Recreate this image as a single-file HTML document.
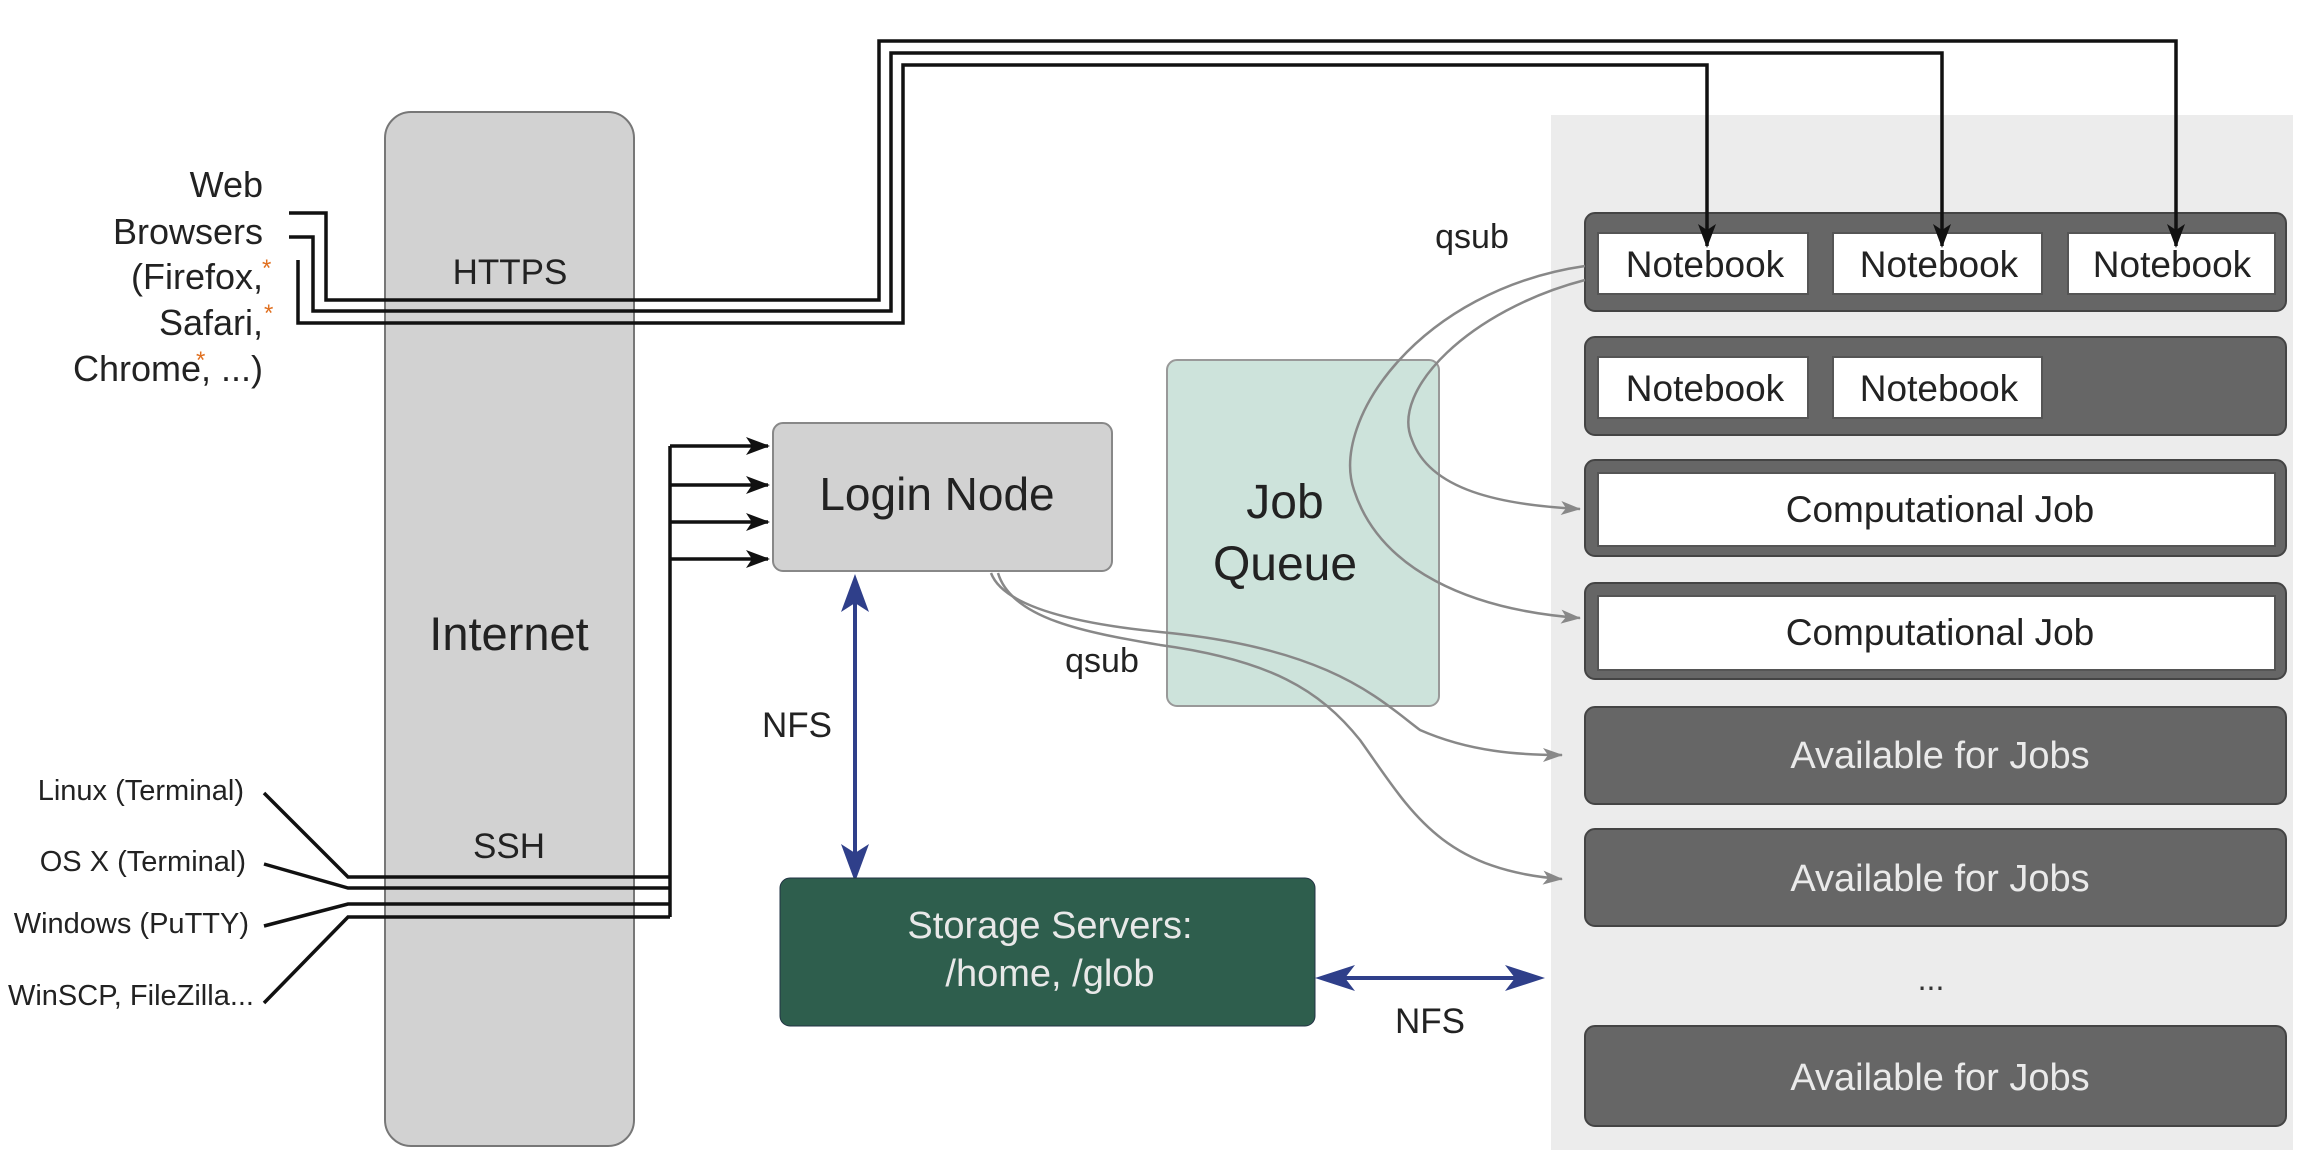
<!DOCTYPE html>
<html><head><meta charset="utf-8"><style>
html,body{margin:0;padding:0;background:#fff}
svg{display:block}
text{font-family:"Liberation Sans",Arial,sans-serif}
</style></head><body>
<svg width="2308" height="1150" viewBox="0 0 2308 1150" xmlns="http://www.w3.org/2000/svg">
<defs>
<marker id="abk" markerWidth="24" markerHeight="20" refX="22" refY="10" orient="auto" markerUnits="userSpaceOnUse" viewBox="0 0 24 20"><path d="M0,1 L24,10 L0,19 L6,10 z" fill="#111"/></marker>
<marker id="ag" markerWidth="20" markerHeight="16" refX="19" refY="8" orient="auto" markerUnits="userSpaceOnUse" viewBox="0 0 20 16"><path d="M0,1 L20,8 L0,15 L5,8 z" fill="#888"/></marker>
</defs>

<rect x="1551" y="115" width="742" height="1040" fill="#ececec"/>

<rect x="385" y="112" width="249" height="1034" rx="26" fill="#d2d2d2" stroke="#777" stroke-width="2"/>
<text x="509" y="650" font-size="47" text-anchor="middle" fill="#222">Internet</text>
<text x="510" y="284" font-size="35" text-anchor="middle" fill="#222">HTTPS</text>
<text x="509" y="858" font-size="35" text-anchor="middle" fill="#222">SSH</text>

<g font-size="36" fill="#222" text-anchor="end">
<text x="263" y="197">Web</text>
<text x="263" y="244">Browsers</text>
<text x="263" y="289">(Firefox,</text>
<text x="263" y="335">Safari,</text>
<text x="263" y="381">Chrome, ...)</text>
</g>
<g font-size="24" fill="#e07020"><text x="262" y="276">*</text><text x="264" y="321">*</text><text x="196" y="368">*</text></g>

<g font-size="29" fill="#222" text-anchor="end">
<text x="244" y="800">Linux (Terminal)</text>
<text x="246" y="871">OS X (Terminal)</text>
<text x="249" y="933">Windows (PuTTY)</text>
<text x="254" y="1005">WinSCP, FileZilla...</text>
</g>
<g fill="none" stroke="#111" stroke-width="3.5">
<path d="M264,793 L348,877 H670"/>
<path d="M264,864 L348,888 H670"/>
<path d="M264,926 L348,904 H670"/>
<path d="M264,1003 L348,917 H670"/>
<path d="M670,917 V446"/>
<path d="M670,446 H768" marker-end="url(#abk)"/>
<path d="M670,485 H768" marker-end="url(#abk)"/>
<path d="M670,522 H768" marker-end="url(#abk)"/>
<path d="M670,559 H768" marker-end="url(#abk)"/>
</g>

<rect x="773" y="423" width="339" height="148" rx="10" fill="#d2d2d2" stroke="#888" stroke-width="2"/>
<text x="937" y="510" font-size="46" text-anchor="middle" fill="#222">Login Node</text>

<line x1="855" y1="600" x2="855" y2="862" stroke="#2f3f8a" stroke-width="4"/>
<path d="M855,574 L869,612 L855,603 L841,612 z" fill="#2f3f8a"/>
<path d="M855,882 L869,844 L855,853 L841,844 z" fill="#2f3f8a"/>
<text x="797" y="737" font-size="35" text-anchor="middle" fill="#222">NFS</text>

<rect x="780" y="878" width="535" height="148" rx="10" fill="#2e5e4d" stroke="#234" stroke-width="1"/>
<text x="1050" y="938" font-size="38" text-anchor="middle" fill="#e8e8e8">Storage Servers:</text>
<text x="1050" y="986" font-size="38" text-anchor="middle" fill="#e8e8e8">/home, /glob</text>

<line x1="1335" y1="978" x2="1522" y2="978" stroke="#2f3f8a" stroke-width="4"/>
<path d="M1315,978 L1355,965 L1345,978 L1355,991 z" fill="#2f3f8a"/>
<path d="M1545,978 L1505,965 L1515,978 L1505,991 z" fill="#2f3f8a"/>
<text x="1430" y="1033" font-size="35" text-anchor="middle" fill="#222">NFS</text>

<rect x="1167" y="360" width="272" height="346" rx="10" fill="#cde3db" stroke="#999" stroke-width="2"/>
<text x="1285" y="518" font-size="48" text-anchor="middle" fill="#222">Job</text>
<text x="1285" y="580" font-size="48" text-anchor="middle" fill="#222">Queue</text>

<g stroke="#444" stroke-width="2">
<rect x="1585" y="213" width="701" height="98" rx="10" fill="#666"/>
<rect x="1585" y="337" width="701" height="98" rx="10" fill="#666"/>
<rect x="1585" y="460" width="701" height="96" rx="10" fill="#666"/>
<rect x="1585" y="583" width="701" height="96" rx="10" fill="#666"/>
<rect x="1585" y="707" width="701" height="97" rx="10" fill="#666"/>
<rect x="1585" y="829" width="701" height="97" rx="10" fill="#666"/>
<rect x="1585" y="1026" width="701" height="100" rx="10" fill="#666"/>
</g>
<g fill="#fff" stroke="#555" stroke-width="2">
<rect x="1598" y="233" width="210" height="61"/>
<rect x="1833" y="233" width="209" height="61"/>
<rect x="2068" y="233" width="207" height="61"/>
<rect x="1598" y="357" width="210" height="61"/>
<rect x="1833" y="357" width="209" height="61"/>
<rect x="1598" y="473" width="677" height="73"/>
<rect x="1598" y="596" width="677" height="74"/>
</g>
<g font-size="37" text-anchor="middle" fill="#222">
<text x="1705" y="277">Notebook</text>
<text x="1939" y="277">Notebook</text>
<text x="2172" y="277">Notebook</text>
<text x="1705" y="401">Notebook</text>
<text x="1939" y="401">Notebook</text>
<text x="1940" y="522">Computational Job</text>
<text x="1940" y="645">Computational Job</text>
</g>
<g font-size="38" text-anchor="middle" fill="#eaeaea">
<text x="1940" y="768">Available for Jobs</text>
<text x="1940" y="891">Available for Jobs</text>
<text x="1940" y="1090">Available for Jobs</text>
</g>
<text x="1931" y="990" font-size="32" text-anchor="middle" fill="#333">...</text>

<g fill="none" stroke="#111" stroke-width="3.5">
<path d="M289,213 H326 V300 H879 V41 H2176 V246" marker-end="url(#abk)"/>
<path d="M289,237 H313 V311 H891 V53 H1942 V246" marker-end="url(#abk)"/>
<path d="M298,260 V323 H903 V65 H1707 V246" marker-end="url(#abk)"/>
</g>

<text x="1472" y="248" font-size="34" text-anchor="middle" fill="#222">qsub</text>
<text x="1102" y="672" font-size="34" text-anchor="middle" fill="#222">qsub</text>

<g fill="none" stroke="#888" stroke-width="2.5">
<path d="M1585,266 C1420,290 1330,420 1354,490 C1380,570 1470,610 1580,618" marker-end="url(#ag)"/>
<path d="M1585,280 C1470,310 1390,390 1412,440 C1430,490 1500,505 1580,509" marker-end="url(#ag)"/>
<path d="M991,573 C1005,610 1090,625 1160,632 C1330,648 1380,700 1420,730 C1470,752 1520,755 1562,755" marker-end="url(#ag)"/>
<path d="M998,573 C1012,620 1090,633 1160,645 C1270,660 1320,690 1360,740 C1410,810 1440,870 1562,879" marker-end="url(#ag)"/>
</g>
</svg>
</body></html>
